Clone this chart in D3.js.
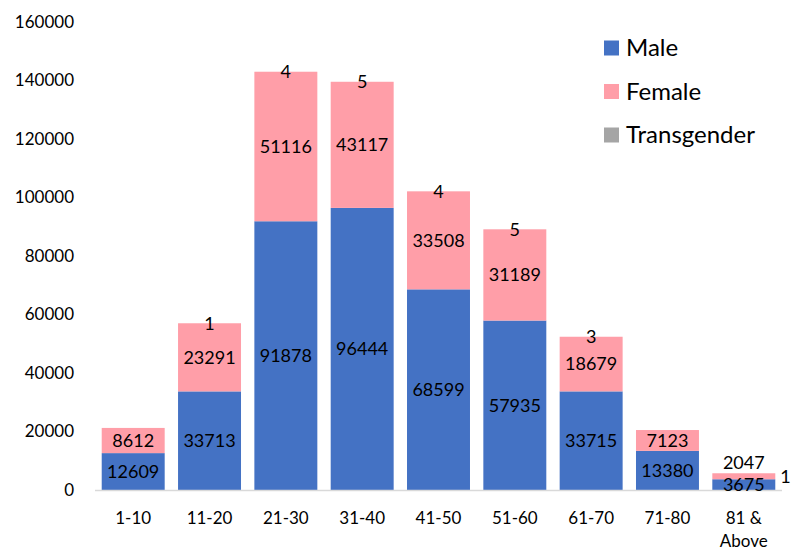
<!DOCTYPE html>
<html><head><meta charset="utf-8">
<script src="https://cdn.jsdelivr.net/npm/d3@7"></script>
<style>body{margin:0;background:#fff;} text{font-family:Lato,"Open Sans",sans-serif;fill:#000;}</style>
</head><body>
<svg id="c" width="791" height="550"></svg>
<script>
const categories = ["1-10","11-20","21-30","31-40","41-50","51-60","61-70","71-80","81 & Above"];
const male = [12609,33713,91878,96444,68599,57935,33715,13380,3675];
const female = [8612,23291,51116,43117,33508,31189,18679,7123,2047];
const transgender = [0,1,4,5,4,5,3,0,1];
const seriesNames = ["Male","Female","Transgender"];
const colors = ["#4472C4","#FF9EA8","#A5A5A5"];
const yTicks = [0,20000,40000,60000,80000,100000,120000,140000,160000];

const svg = d3.select("#c");
const x = d3.scaleBand().domain(categories).range([95,782]).paddingInner(0.175).paddingOuter(0.088);
const y = d3.scaleLinear().domain([0,160000]).range([490,22]);

const data = categories.map((c,i)=>({cat:c, Male:male[i], Female:female[i], Transgender:transgender[i]}));
const stack = d3.stack().keys(seriesNames)(data);

// y axis labels
svg.append("g").selectAll("text").data(yTicks).join("text")
  .attr("x",74).attr("y",d=>y(d)).attr("dy","0.35em").attr("text-anchor","end")
  .style("font-size","17px").text(d=>d);

// bars
stack.forEach((s,si)=>{
  svg.append("g").selectAll("rect").data(s).join("rect")
    .attr("x",d=>x(d.data.cat)).attr("width",x.bandwidth())
    .attr("y",d=>y(d[1])).attr("height",d=>Math.max(0,y(d[0])-y(d[1])))
    .attr("fill",colors[si]);
});

// axis line
svg.append("line").attr("x1",95).attr("x2",782).attr("y1",y(0)+0.5).attr("y2",y(0)+0.5)
  .attr("stroke","#D9D9D9").attr("stroke-width",1.5);

// data labels
const lab = svg.append("g").style("font-size","18px");
stack.forEach((s,si)=>{
  s.forEach((d,i)=>{
    const v = d[1]-d[0];
    if(si===2 && v===0) return;
    const cx = x(d.data.cat)+x.bandwidth()/2;
    const h = y(d[0])-y(d[1]);
    let ty = (y(d[0])+y(d[1]))/2, tx = cx, anchor="middle";
    const fh = y(0)-y(female[i]);
    if(si===1 && h<16) ty = y(d[1])-11;
    if(si===2 && fh<16){ tx = x(d.data.cat)+x.bandwidth()+5; anchor="start"; ty = y(d[1])+3; }
    lab.append("text").attr("x",tx).attr("y",ty).attr("dy","0.35em")
      .attr("text-anchor",anchor).text(v);
  });
});

// x labels
const xl = svg.append("g").style("font-size","17px");
categories.forEach(c=>{
  const cx = x(c)+x.bandwidth()/2;
  const parts = c==="81 & Above" ? ["81 &","Above"] : [c];
  parts.forEach((p,k)=>{
    xl.append("text").attr("x",cx).attr("y",518+k*23).attr("dy","0.35em")
      .attr("text-anchor","middle").text(p);
  });
});

// legend
const lg = svg.append("g");
seriesNames.forEach((n,i)=>{
  const yy = 48+i*43.5;
  lg.append("rect").attr("x",604).attr("y",yy-7.5).attr("width",15).attr("height",15).attr("fill",colors[i]);
  lg.append("text").attr("x",626).attr("y",yy).attr("dy","0.35em").style("font-size","24px").text(n);
});
</script>
</body></html>
